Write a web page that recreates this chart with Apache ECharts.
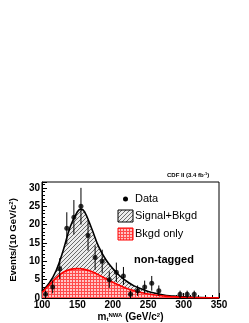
<!DOCTYPE html>
<html><head><meta charset="utf-8">
<script src="https://cdn.jsdelivr.net/npm/echarts@6/dist/echarts.min.js"></script>
<style>html,body{margin:0;padding:0;background:#fff}#c{width:249px;height:323px}</style>
</head><body><div id="c"></div>
<script>
// Data points (bin centres, events, error)
const dataX = [105,115,125,135,145,155,165,175,185,195,205,215,225,235,245,255,265,295,305,315];
const dataY = [1,3,8,19,22,25,17,11,10,5,7,6,1,2,3,4,2,1,1,1];
// Fit curves
const curveX = [100,110,120,130,140,150,155,160,170,180,190,200,210,220,230,240,250,260,270,280,290,300,325,350];
const sigBkg = [1.8,4,7.5,13,19.5,23.5,24.2,23.5,19,14,10.5,8,6,4.5,3.3,2.5,1.8,1.3,0.9,0.6,0.45,0.3,0.1,0.05];
const bkgOnly = [1.5,3.5,5.5,7,7.8,8,7.95,7.8,7.2,6.3,5.3,4.3,3.4,2.6,2.0,1.5,1.1,0.8,0.6,0.4,0.3,0.2,0.08,0.03];
const xTicks = [100,150,200,250,300,350];
const yTicks = [0,5,10,15,20,25,30];

function hatch(){
  const c=document.createElement('canvas');c.width=4;c.height=4;const g=c.getContext('2d');
  g.fillStyle='#ececec';g.fillRect(0,0,4,4);
  g.fillStyle='#6a6a6a';
  for(let i=0;i<4;i++){g.fillRect(i,3-i,1,1);}
  return c;
}
function cross(){
  const c=document.createElement('canvas');c.width=3;c.height=3;const g=c.getContext('2d');
  g.fillStyle='#ffc4c4';g.fillRect(0,0,3,3);
  g.fillStyle='#ff4a4a';g.fillRect(0,0,3,1);g.fillRect(0,0,1,3);
  return c;
}
const hatchPat={image:hatch(),repeat:'repeat'};
const crossPat={image:cross(),repeat:'repeat'};

const pts = dataX.map((x,i)=>[x,dataY[i]]);
const ff='"Liberation Sans", Arial, sans-serif';
const chart=echarts.init(document.getElementById('c'));
chart.setOption({
  animation:false,
  grid:{left:27,right:30,top:182,bottom:24,show:true,borderColor:'#000',borderWidth:1,backgroundColor:'transparent'},
  xAxis:{type:'value',min:xTicks[0],max:xTicks[xTicks.length-1],interval:50,
    axisLine:{lineStyle:{color:'#000'}},
    axisTick:{inside:true,length:5,lineStyle:{color:'#000'}},
    minorTick:{show:true,splitNumber:5,length:3,lineStyle:{color:'#000'}},
    splitLine:{show:false},
    axisLabel:{color:'#000',fontFamily:ff,fontWeight:'bold',fontSize:10,margin:2},
    name:'{m|m}{t|t}{s|NWA}{m| (GeV/c}{s|2}{m|)}',nameLocation:'middle',nameGap:14,
    nameTextStyle:{rich:{m:{fontFamily:ff,fontWeight:'bold',fontSize:10,color:'#000'},
      t:{fontFamily:ff,fontWeight:'bold',fontSize:6,color:'#000',verticalAlign:'bottom',padding:[4,0,0,0]},
      s:{fontFamily:ff,fontWeight:'bold',fontSize:6,color:'#000',verticalAlign:'top',padding:[0,0,4,0]}}}
  },
  yAxis:{type:'value',min:0,max:31.6,interval:5,
    axisLine:{lineStyle:{color:'#000'}},
    axisTick:{inside:true,length:5,lineStyle:{color:'#000'}},
    minorTick:{show:true,splitNumber:5,length:3,lineStyle:{color:'#000'}},
    splitLine:{show:false},
    axisLabel:{color:'#000',fontFamily:ff,fontWeight:'bold',fontSize:10,margin:2,showMaxLabel:false},
    name:'{m|Events/(10 GeV/c}{s|2}{m|)}',nameLocation:'middle',nameGap:17,
    nameTextStyle:{rich:{m:{fontFamily:ff,fontWeight:'bold',fontSize:9.5,color:'#000'},
      s:{fontFamily:ff,fontWeight:'bold',fontSize:6,color:'#000',verticalAlign:'top',padding:[0,0,4,0]}}}
  },
  series:[
    {type:'line',data:curveX.map((x,i)=>[x,sigBkg[i]]),smooth:0.4,showSymbol:false,
     lineStyle:{color:'#000',width:1.6},areaStyle:{color:hatchPat,opacity:1},z:1},
    {type:'line',data:curveX.map((x,i)=>[x,bkgOnly[i]]),smooth:0.4,showSymbol:false,
     lineStyle:{color:'#ff0000',width:1.6},areaStyle:{color:crossPat,opacity:1},z:2},
    {type:'custom',data:pts,z:5,renderItem:function(params,api){
      const x=api.value(0),y=api.value(1),e=Math.sqrt(y);
      const p1=api.coord([x,y+e]),p2=api.coord([x,Math.max(0,y-e)]);
      return {type:'line',shape:{x1:p1[0],y1:p1[1],x2:p2[0],y2:p2[1]},style:{stroke:'#000',lineWidth:1}};
    }},
    {type:'scatter',data:pts,symbol:'circle',symbolSize:5,itemStyle:{color:'#000'},z:6}
  ],
  graphic:[
    {type:'text',left:167,top:172,style:{text:'{a|CDF II (3.4 fb}{s|-1}{a|)}',rich:{a:{fontFamily:ff,fontWeight:'bold',fontSize:6,fill:'#000'},s:{fontFamily:ff,fontWeight:'bold',fontSize:4,fill:'#000',verticalAlign:'top'}}}},
    {type:'circle',shape:{cx:125.5,cy:199,r:2.5},style:{fill:'#000'}},
    {type:'text',left:135,top:193,style:{text:'Data',fontFamily:ff,fontSize:11,fill:'#000'}},
    {type:'rect',shape:{x:118,y:210,width:15,height:12},style:{fill:hatchPat,stroke:'#000',lineWidth:1}},
    {type:'text',left:135,top:210,style:{text:'Signal+Bkgd',fontFamily:ff,fontSize:11,fill:'#000'}},
    {type:'rect',shape:{x:118,y:228,width:15,height:12},style:{fill:crossPat,stroke:'#ff0000',lineWidth:1}},
    {type:'text',left:135,top:228,style:{text:'Bkgd only',fontFamily:ff,fontSize:11,fill:'#000'}},
    {type:'text',left:134,top:254,style:{text:'non-tagged',fontFamily:ff,fontWeight:'bold',fontSize:11,fill:'#000'}}
  ]
});
</script></body></html>
